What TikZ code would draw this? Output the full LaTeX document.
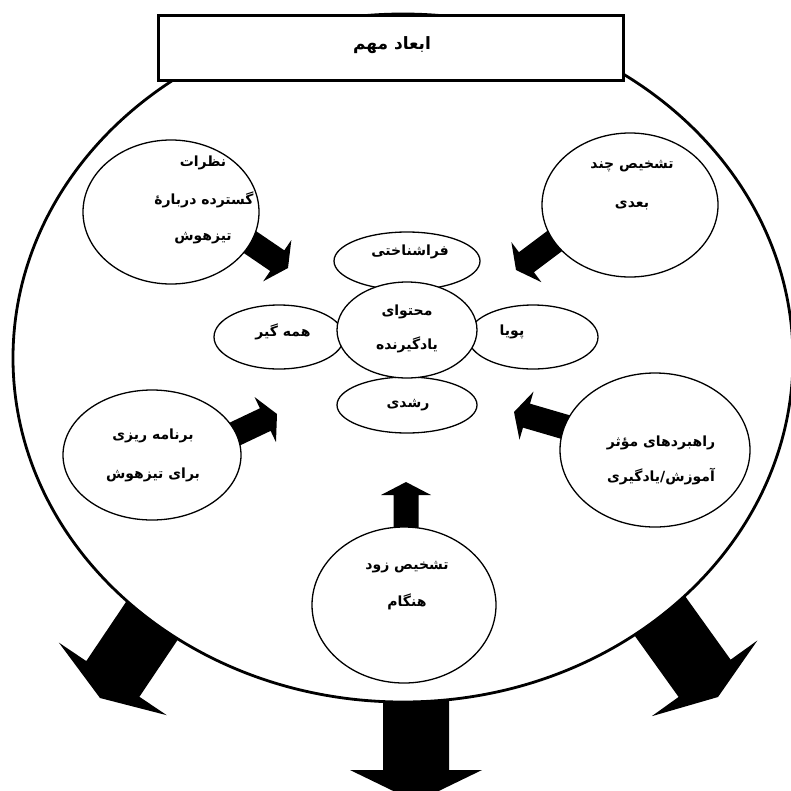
\documentclass[tikz,border=0pt]{standalone}
\usepackage{fontspec}
\usetikzlibrary{calc,shapes.geometric}
\TeXXeTstate=1
\newfontfamily\arabicfont[Script=Arabic]{DejaVu Sans}
\newcommand\fa[1]{\beginR #1\endR}
\pgfdeclarelayer{outerarrows}
\pgfdeclarelayer{outerring}
\pgfdeclarelayer{innerarrows}
\pgfsetlayers{outerarrows,outerring,innerarrows,main}
% block arrow: tail, tip, shaft half width, head half width, head length
\newcommand\blkarrow[5]{%
  \coordinate (ab) at ($(#2)!#5!(#1)$);
  \fill[blockfill] ($(#1)!#3!90:(#2)$) -- ($(ab)!#3!90:(#2)$) -- ($(ab)!#4!90:(#2)$) -- (#2)
    -- ($(ab)!#4!-90:(#2)$) -- ($(ab)!#3!-90:(#2)$) -- ($(#1)!#3!-90:(#2)$) -- cycle;
}
\begin{document}
\begin{tikzpicture}[x=1pt,y=-1pt,
  ring/.style={ellipse, draw, line width=2.8pt, fill=white, inner sep=0pt},
  oval/.style={ellipse, draw, line width=1.3pt, fill=white, inner sep=0pt},
  lbl/.style={font=\arabicfont\bfseries\fontsize{14}{16}\selectfont, inner sep=0pt},
  titlelbl/.style={font=\arabicfont\bfseries\fontsize{17}{20}\selectfont, inner sep=0pt},
  titlebox/.style={draw, line width=3pt, fill=white, inner sep=0pt},
  blockfill/.style={fill=black}]
\useasboundingbox (0,0) rectangle (791,790);

% coordinates for the block arrows
\coordinate (b1s) at (178,582); \coordinate (b1e) at (100,698);
\coordinate (b2s) at (637,584); \coordinate (b2e) at (718,697);
\coordinate (b3s) at (416,650); \coordinate (b3e) at (416,802);
\coordinate (a1s) at (197,206); \coordinate (a1e) at (288,268);
\coordinate (a2s) at (604,204); \coordinate (a2e) at (516,270);
\coordinate (a3s) at (178,461); \coordinate (a3e) at (277,414);
\coordinate (a4s) at (620,443); \coordinate (a4e) at (514,412);
\coordinate (a5s) at (406,560); \coordinate (a5e) at (406,482);

\begin{pgfonlayer}{outerarrows}
  \fill[white] (0,0) rectangle (791,790);
  \blkarrow{b1s}{b1e}{32pt}{65pt}{23pt}
  \blkarrow{b2s}{b2e}{32pt}{65pt}{23pt}
  \blkarrow{b3s}{b3e}{33pt}{66pt}{32pt}
\end{pgfonlayer}

\begin{pgfonlayer}{outerring}
  \node[ring, minimum width=780pt, minimum height=688pt] (outer) at (403,358) {};
\end{pgfonlayer}

\begin{pgfonlayer}{innerarrows}
  \blkarrow{a1s}{a1e}{12.5pt}{25pt}{13pt}
  \blkarrow{a2s}{a2e}{12.5pt}{25pt}{13pt}
  \blkarrow{a3s}{a3e}{12.5pt}{25pt}{13pt}
  \blkarrow{a4s}{a4e}{12.5pt}{25pt}{13pt}
  \blkarrow{a5s}{a5e}{12.5pt}{25pt}{13pt}
\end{pgfonlayer}

% outer ovals
\node[oval, minimum width=176pt, minimum height=144pt] (e1) at (171,212) {};
\node[oval, minimum width=176pt, minimum height=144pt] (e2) at (630,205) {};
\node[oval, minimum width=178pt, minimum height=130pt] (e8) at (152,455) {};
\node[oval, minimum width=190pt, minimum height=154pt] (e9) at (655,450) {};
\node[oval, minimum width=184pt, minimum height=156pt] (e10) at (404,605) {};
% petals
\node[oval, minimum width=146pt, minimum height=58pt] (e3) at (407,261) {};
\node[oval, minimum width=130pt, minimum height=64pt] (e5) at (279,337) {};
\node[oval, minimum width=130pt, minimum height=64pt] (e6) at (533,337) {};
\node[oval, minimum width=140pt, minimum height=56pt] (e7) at (407,405) {};
\node[oval, minimum width=140pt, minimum height=96pt] (e4) at (407,330) {};

% title
\node[titlebox, minimum width=465pt, minimum height=65pt] (title) at (391,48) {};
\node[titlelbl] (ttl) at (392,45) {\fa{ابعاد مهم}};

% labels
\node[lbl] (t1a) at (203,163) {\fa{نظرات}};
\node[lbl] (t1b) at (204,200) {\fa{گسترده دربارهٔ}};
\node[lbl] (t1c) at (203,238) {\fa{تیزهوش}};
\node[lbl] (t2a) at (632,166) {\fa{تشخیص چند}};
\node[lbl] (t2b) at (632,205) {\fa{بعدی}};
\node[lbl] (t3) at (410,252) {\fa{فراشناختی}};
\node[lbl] (t4a) at (407,312) {\fa{محتوای}};
\node[lbl] (t4b) at (407,345) {\fa{یادگیرنده}};
\node[lbl] (t5) at (283,332) {\fa{همه گیر}};
\node[lbl] (t6) at (512,332) {\fa{پویا}};
\node[lbl] (t7) at (408,405) {\fa{رشدی}};
\node[lbl] (t8a) at (153,436) {\fa{برنامه ریزی}};
\node[lbl] (t8b) at (153,475) {\fa{برای تیزهوش}};
\node[lbl] (t9a) at (661,443) {\fa{راهبردهای مؤثر}};
\node[lbl] (t9b) at (661,477) {\fa{آموزش/یادگیری}};
\node[lbl] (t10a) at (407,567) {\fa{تشخیص زود}};
\node[lbl] (t10b) at (407,602) {\fa{هنگام}};
\end{tikzpicture}
\end{document}
